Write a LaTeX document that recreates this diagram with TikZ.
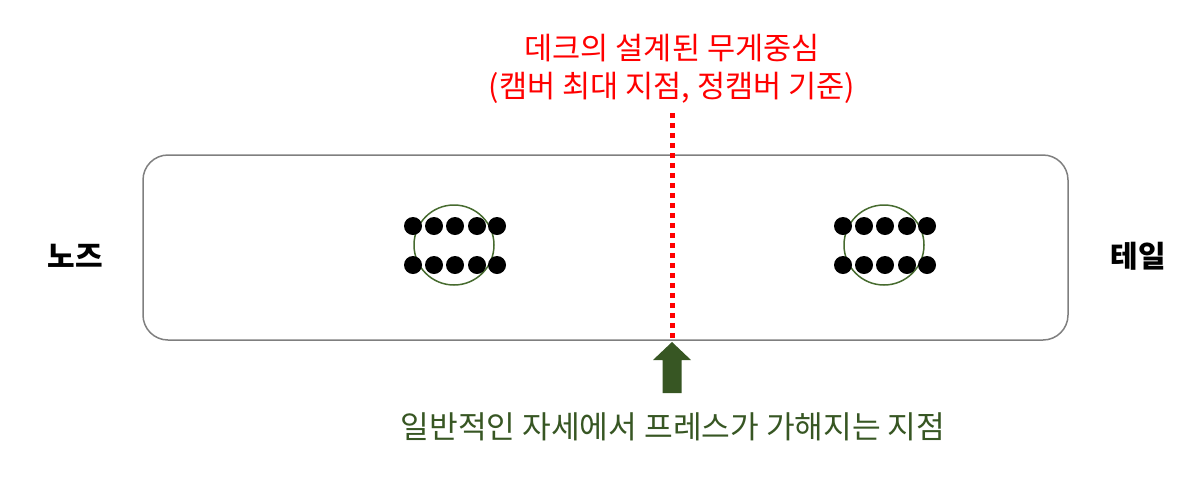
\documentclass[tikz,border=0pt]{standalone}
\usepackage{fontspec}
\newfontfamily\kr{Noto Sans CJK KR}
\definecolor{dgreen}{HTML}{375623}
\definecolor{boxgray}{HTML}{7F7F7F}
\definecolor{circgreen}{HTML}{476B2F}
\tikzset{
  deck/.style={draw=boxgray, line width=0.75pt, rounded corners=12.5pt},
  dot/.style={circle, fill=black, inner sep=0pt, minimum size=9pt},
  truck/.style={circle, draw=circgreen, line width=0.75pt, inner sep=0pt, minimum size=40pt},
  redtxt/.style={text=red, font=\kr\fontsize{15.3}{19}\selectfont, align=center},
  greentxt/.style={text=dgreen, font=\kr\fontsize{15.6}{19}\selectfont},
  side/.style={font=\kr\bfseries\fontsize{15}{17}\selectfont},
  cgline/.style={red, line width=2.5pt, dash pattern=on 2.5pt off 2.5pt}
}
\begin{document}
\begin{tikzpicture}[x=0.5pt,y=-0.5pt]
\useasboundingbox (0,0) rectangle (1199,499);
\node[deck, minimum width=462.5pt, minimum height=92.5pt] (deck) at (605.5,247.5) {};
% left truck
\node[truck] (c1) at (454,245) {};
\foreach \i/\x in {1/413,2/434,3/455,4/477,5/497}{
  \node[dot] (lt\i) at (\x,226) {};
  \node[dot] (lb\i) at (\x,265) {};
}
% right truck
\node[truck] (c2) at (884,245) {};
\foreach \i/\x in {1/843,2/864,3/885,4/907,5/927}{
  \node[dot] (rt\i) at (\x,226) {};
  \node[dot] (rb\i) at (\x,265) {};
}
\node[side] (nose) at (75,256) {노즈};
\node[side] (tail) at (1138,256) {테일};
% red label and dotted line
\node[redtxt] (cg) at (672,69) {데크의 설계된 무게중심\\(캠버 최대 지점, 정캠버 기준)};
\coordinate (ctop) at (672,113);
\coordinate (cbot) at (672,340);
\draw[cgline] (ctop) -- (cbot);
% green block arrow
\fill[dgreen] (672,342) -- (691,360) -- (681.5,360) -- (681.5,393) -- (662.5,393) -- (662.5,360) -- (653,360) -- cycle;
\node[greentxt] (ptxt) at (673,427) {일반적인 자세에서 프레스가 가해지는 지점};
\end{tikzpicture}
\end{document}
